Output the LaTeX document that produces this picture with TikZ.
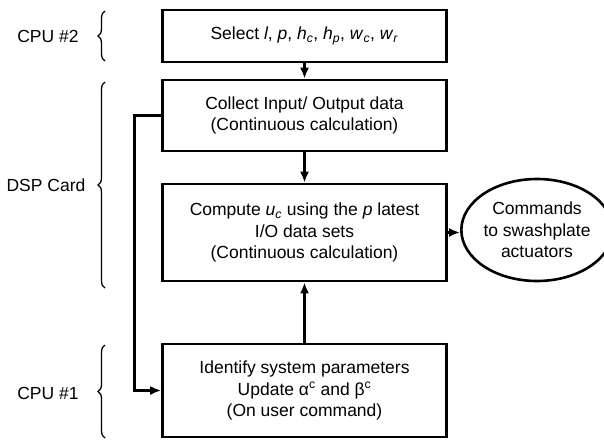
\documentclass[tikz,border=0pt]{standalone}
\usepackage{fontspec}
\setmainfont{Liberation Sans}
\usetikzlibrary{positioning,
        shapes,
        arrows.meta,
        decorations.pathreplacing}
\newcommand{\sv}[2]{\textit{#1}\textsubscript{\textit{#2}}}

\begin{document}
\begin{tikzpicture}[x=1pt,y=-1pt,
        stepbox/.style={rectangle,draw,line width=2.6pt,minimum width=284pt,align=center,
            font=\fontsize{17.5}{21.5}\selectfont},
        arr/.style={-{Latex[length=11pt,width=9pt]},line width=2.6pt},
        brc/.style={decorate,decoration={brace,amplitude=7pt},line width=1.3pt},
        lbl/.style={font=\fontsize{17.5}{21.5}\selectfont}]
            \useasboundingbox (0,0) rectangle (604,439);
            \node [stepbox,minimum height=52pt] (select) at (304.5,36) {Select \textit{l}, \textit{p}, \sv{h}{c}, \sv{h}{p}, \sv{w}{c}, \sv{w}{r}};
            \node [stepbox,minimum height=71pt] (collect) at (304.5,115.5) {Collect Input/ Output data\\(Continuous calculation)};
            \node [stepbox,minimum height=97pt] (compute) at (304.5,232.5) {Compute \sv{u}{c} using the \textit{p} latest\\I/O data sets\\(Continuous calculation)};
            \node [stepbox,minimum height=93pt] (identify) at (304.5,390.5) {Identify system parameters\\Update α\textsuperscript{c} and β\textsuperscript{c}\\(On user command)};
            \node [ellipse,draw,line width=2.6pt,minimum width=130pt,minimum height=102pt,align=center,
                font=\fontsize{17.5}{21.5}\selectfont,inner sep=0pt] (cmd) at (537,230) {Commands\\to swashplate\\actuators};

            \node [lbl] (cpu2) at (48,36) {CPU \#2};
            \node [lbl] (dsp) at (46,185) {DSP Card};
            \node [lbl] (cpu1) at (48,393) {CPU \#1};

            \draw [brc] (105,61) -- (105,11);
            \draw [brc] (105,288) -- (105,82);
            \draw [brc] (105,438) -- (105,345);

            \draw [arr](select) -- (collect);
            \draw [arr](collect) -- (compute);
            \draw [arr](identify) -- (compute);
            \draw [arr](compute.east) -- (compute.east -| cmd.west);
            \draw [arr](collect.west) -- ++(-27,0) |- (identify.west);
        \end{tikzpicture}
\end{document}
